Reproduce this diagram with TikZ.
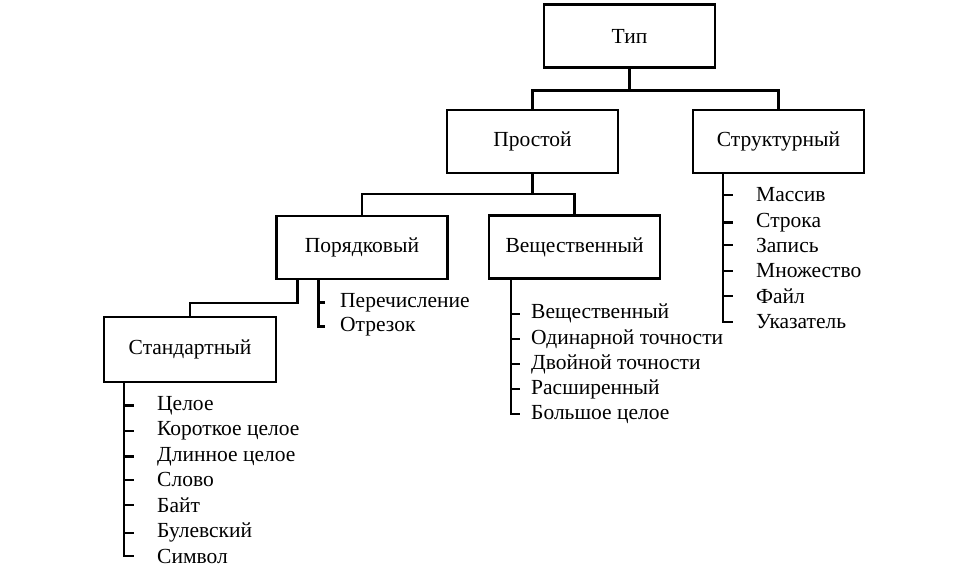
\documentclass[tikz,border=0pt]{standalone}
\usepackage{fontspec}
\setmainfont{Liberation Serif}
\usetikzlibrary{positioning, calc}

\begin{document}
\begin{tikzpicture}[
    x=1pt, y=-1pt,
    box/.style={draw, rectangle, line width=2.2pt, minimum width=171pt, minimum height=63pt, align=center, font=\fontsize{21.5}{26}\selectfont},
    item/.style={anchor=mid west, inner sep=0pt, font=\fontsize{21.5}{26}\selectfont},
    link/.style={line width=2.2pt}
]
\useasboundingbox (0,0) rectangle (964,575);

% boxes
\node[box] (tip) at (629.5,36) {Тип};
\node[box] (prost) at (532.5,141.5) {Простой};
\node[box] (struct) at (778.5,141.5) {Структурный};
\node[box] (ord) at (362,247.5) {Порядковый};
\node[box] (real) at (574.5,247) {Вещественный};
\node[box, minimum height=65pt, minimum width=172pt] (std) at (190,349.5) {Стандартный};

% tree connectors
\draw[link] (tip.south) -- ++(0,22) coordinate (j1) -| (prost.north);
\draw[link] (j1) -| (struct.north);
\draw[link] (prost.south) -- ++(0,20) coordinate (j2) -| (ord.north);
\draw[link] (j2) -| (real.north);
\draw[link] ($(ord.south west)+(22,0)$) -- ++(0,23) -| (std.north);

% ordinal list
\node[item] (o1) at (340,305) {Перечисление};
\node[item] (o2) at (340,329) {Отрезок};
\coordinate (ov) at ($(ord.south west)+(43,0)$);
\draw[link] (ov) |- ($(ov |- o2.west)+(7,0)$);
\draw[link] (ov |- o1.west) -- ++(7,0);

% standard list
\node[item] (s1) at (157,408) {Целое};
\node[item] (s2) at (157,433.5) {Короткое целое};
\node[item] (s3) at (157,459) {Длинное целое};
\node[item] (s4) at (157,484.5) {Слово};
\node[item] (s5) at (157,510) {Байт};
\node[item] (s6) at (157,535.5) {Булевский};
\node[item] (s7) at (157,561) {Символ};
\coordinate (sv) at ($(std.south west)+(21,0)$);
\draw[link] (sv) |- ($(sv |- s7.west)+(10,0)$);
\draw[link] (sv |- s1.west) -- ++(10,0);
\draw[link] (sv |- s2.west) -- ++(10,0);
\draw[link] (sv |- s3.west) -- ++(10,0);
\draw[link] (sv |- s4.west) -- ++(10,0);
\draw[link] (sv |- s5.west) -- ++(10,0);
\draw[link] (sv |- s6.west) -- ++(10,0);

% real list
\node[item] (r1) at (531,316.5) {Вещественный};
\node[item] (r2) at (531,342) {Одинарной точности};
\node[item] (r3) at (531,367) {Двойной точности};
\node[item] (r4) at (531,392) {Расширенный};
\node[item] (r5) at (531,417) {Большое целое};
\coordinate (rv) at ($(real.south west)+(23,0)$);
\draw[link] (rv) |- ($(rv |- r5.west)+(9,0)$);
\draw[link] (rv |- r1.west) -- ++(9,0);
\draw[link] (rv |- r2.west) -- ++(9,0);
\draw[link] (rv |- r3.west) -- ++(9,0);
\draw[link] (rv |- r4.west) -- ++(9,0);

% structured list
\node[item] (t1) at (756,199.5) {Массив};
\node[item] (t2) at (756,225) {Строка};
\node[item] (t3) at (756,250) {Запись};
\node[item] (t4) at (756,275.5) {Множество};
\node[item] (t5) at (756,301) {Файл};
\node[item] (t6) at (756,326.5) {Указатель};
\coordinate (tv) at ($(struct.south west)+(31,0)$);
\draw[link] (tv) |- ($(tv |- t6.west)+(10,0)$);
\draw[link] (tv |- t1.west) -- ++(10,0);
\draw[link] (tv |- t2.west) -- ++(10,0);
\draw[link] (tv |- t3.west) -- ++(10,0);
\draw[link] (tv |- t4.west) -- ++(10,0);
\draw[link] (tv |- t5.west) -- ++(10,0);
\end{tikzpicture}
\end{document}
